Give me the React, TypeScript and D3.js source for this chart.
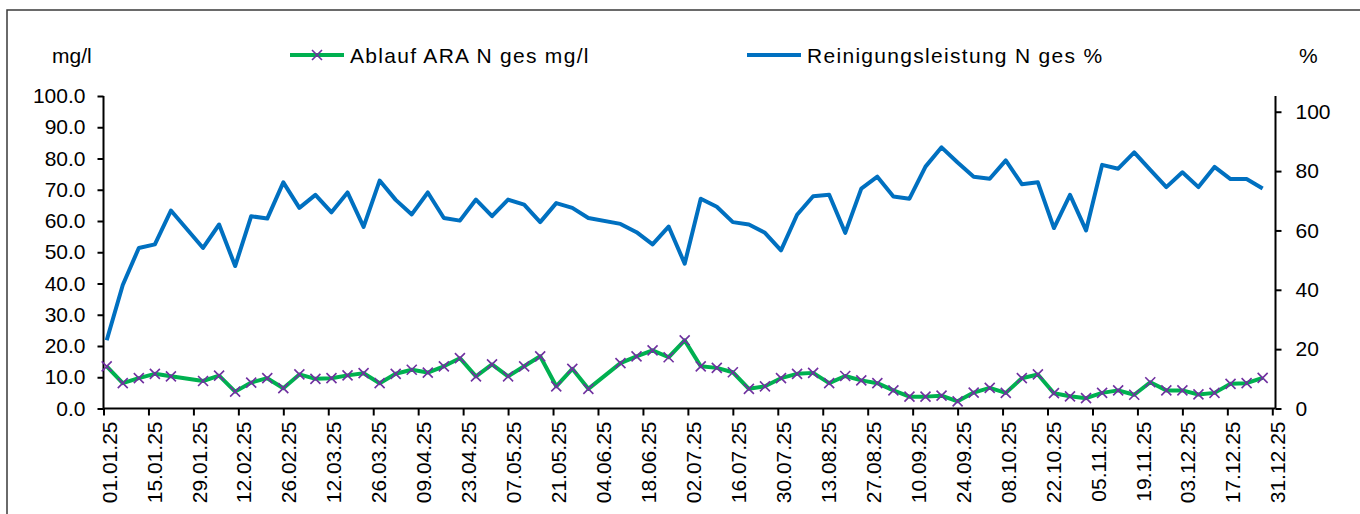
import React, { useRef, useEffect } from 'react';
import * as d3 from 'd3';

// sampling dates (dd.mm.yy)
const dates = [
  '02.01.25', '07.01.25', '12.01.25', '17.01.25', '22.01.25', '01.02.25', '06.02.25', '11.02.25', '16.02.25', '21.02.25',
  '26.02.25', '03.03.25', '08.03.25', '13.03.25', '18.03.25', '23.03.25', '28.03.25', '02.04.25', '07.04.25', '12.04.25',
  '17.04.25', '22.04.25', '27.04.25', '02.05.25', '07.05.25', '12.05.25', '17.05.25', '22.05.25', '27.05.25', '01.06.25',
  '11.06.25', '16.06.25', '21.06.25', '26.06.25', '01.07.25', '06.07.25', '11.07.25', '16.07.25', '21.07.25', '26.07.25',
  '31.07.25', '05.08.25', '10.08.25', '15.08.25', '20.08.25', '25.08.25', '30.08.25', '04.09.25', '09.09.25', '14.09.25',
  '19.09.25', '24.09.25', '29.09.25', '04.10.25', '09.10.25', '14.10.25', '19.10.25', '24.10.25', '29.10.25', '03.11.25',
  '08.11.25', '13.11.25', '18.11.25', '23.11.25', '28.11.25', '03.12.25', '08.12.25', '13.12.25', '18.12.25', '23.12.25',
  '28.12.25',
];

// Ablauf ARA N ges mg/l (left axis)
const ablaufN = [
  13.5, 8.1, 9.7, 11.1, 10.3, 8.8, 10.5, 5.4, 8.3, 9.7,
  6.5, 10.9, 9.5, 9.7, 10.6, 11.3, 8.1, 11.1, 12.4, 11.5,
  13.5, 16.1, 10.3, 14.1, 10.3, 13.5, 16.7, 7.1, 12.7, 6.3,
  14.5, 16.7, 18.6, 16.4, 21.8, 13.5, 13.0, 11.6, 6.3, 7.1,
  9.7, 11.1, 11.4, 8.1, 10.4, 9.0, 8.1, 5.8, 3.8, 3.8,
  4.1, 2.3, 5.1, 6.6, 5.0, 9.7, 10.9, 4.9, 3.9, 3.3,
  5.0, 5.8, 4.4, 8.4, 5.8, 5.8, 4.5, 5.0, 7.9, 8.1, 9.8,
];

// Reinigungsleistung N ges % (right axis)
const reinigung = [
  23.0, 41.6, 54.1, 55.3, 66.7, 54.1, 62.0, 48.0, 64.8, 64.0,
  76.2, 67.6, 72.0, 66.1, 72.8, 61.2, 76.8, 70.3, 65.4, 72.8,
  64.2, 63.3, 70.4, 64.8, 70.4, 68.7, 62.8, 69.2, 67.6, 64.2,
  62.2, 59.4, 55.3, 61.3, 48.8, 70.7, 68.0, 62.8, 62.0, 59.2,
  53.3, 65.3, 71.5, 72.0, 59.2, 74.1, 78.1, 71.4, 70.7, 81.5,
  88.0, 82.9, 78.1, 77.4, 83.6, 75.6, 76.2, 60.8, 72.0, 60.0,
  82.1, 80.8, 86.3, 80.4, 74.6, 79.6, 74.6, 81.4, 77.3, 77.3, 74.1,
];

const xTickLabels = [
  '01.01.25', '15.01.25', '29.01.25', '12.02.25', '26.02.25', '12.03.25', '26.03.25', '09.04.25', '23.04.25',
  '07.05.25', '21.05.25', '04.06.25', '18.06.25', '02.07.25', '16.07.25', '30.07.25', '13.08.25', '27.08.25',
  '10.09.25', '24.09.25', '08.10.25', '22.10.25', '05.11.25', '19.11.25', '03.12.25', '17.12.25', '31.12.25',
];
const leftTicks = [0, 10, 20, 30, 40, 50, 60, 70, 80, 90, 100];
const rightTicks = [0, 20, 40, 60, 80, 100];

const seriesNames = ['Ablauf ARA N ges mg/l', 'Reinigungsleistung N ges %'];

const GREEN = '#00b050';
const PURPLE = '#7030a0';
const BLUE = '#0070c0';
const FONT = '"Liberation Sans", Arial, sans-serif';

const App = () => {
  const ref = useRef(null);

  useEffect(() => {
    const width = 1360;
    const height = 514;
    const left = 103.5;
    const right = 1275.5;
    const top = 96;
    const bottom = 408.5;

    const parse = d3.timeParse('%d.%m.%y');
    const pts = dates.map((d, i) => ({ date: parse(d), n: ablaufN[i], r: reinigung[i] }));

    d3.select(ref.current).selectAll('*').remove();
    const svg = d3
      .select(ref.current)
      .append('svg')
      .attr('width', width)
      .attr('height', height)
      .style('position', 'absolute')
      .style('left', 0)
      .style('top', 0)
      .style('font-family', FONT);

    // chart frame
    svg
      .append('path')
      .attr('d', `M7,${height + 5}V10H${width + 5}`)
      .attr('fill', 'none')
      .attr('stroke', '#3a3a3a')
      .attr('stroke-width', 1.5);

    const x = d3.scaleTime().domain([new Date(2025, 0, 1), new Date(2026, 0, 1)]).range([left, right]);
    const yL = d3.scaleLinear().domain([0, 100]).range([bottom, top]);
    const yR = d3.scaleLinear().domain([0, 105.3]).range([bottom, top]);

    // left axis
    const gl = svg.append('g').attr('transform', `translate(${left},0)`);
    gl.call(d3.axisLeft(yL).tickValues(leftTicks).tickSize(6).tickPadding(12).tickFormat(d3.format('.1f')));
    gl.select('.domain').attr('d', `M0,${top}V${bottom}`);

    // right axis
    const gr = svg.append('g').attr('transform', `translate(${right},0)`);
    gr.call(d3.axisRight(yR).tickValues(rightTicks).tickSize(6).tickPadding(14).tickFormat(d3.format('d')));
    gr.select('.domain').attr('d', `M0,${top}V${bottom}`);

    // x axis
    const tickDates = xTickLabels.map((s) => parse(s));
    const gx = svg.append('g').attr('transform', `translate(0,${bottom})`);
    gx.call(d3.axisBottom(x).tickValues(tickDates).tickSize(7).tickFormat(d3.timeFormat('%d.%m.%y')));
    gx.select('.domain').attr('d', `M${left},0H${right}`);
    gx.selectAll('.tick text')
      .attr('transform', 'rotate(-90)')
      .attr('text-anchor', 'end')
      .attr('x', -13)
      .attr('y', 0)
      .attr('dy', '0.6em');

    svg.selectAll('.domain, .tick line').attr('stroke', '#000').attr('stroke-width', 2);
    svg.selectAll('.tick text').attr('font-size', 21).attr('font-family', FONT).attr('fill', '#000');

    // axis unit labels
    svg.append('text').attr('x', 52).attr('y', 62.5).attr('font-size', 21).text('mg/l');
    svg.append('text').attr('x', 1299).attr('y', 62.5).attr('font-size', 21).text('%');

    // blue line
    const lineR = d3.line().x((d) => x(d.date)).y((d) => yR(d.r));
    svg
      .append('path')
      .datum(pts)
      .attr('d', lineR)
      .attr('fill', 'none')
      .attr('stroke', BLUE)
      .attr('stroke-width', 4)
      .attr('stroke-linejoin', 'round');

    // green line
    const lineN = d3.line().x((d) => x(d.date)).y((d) => yL(d.n));
    svg
      .append('path')
      .datum(pts)
      .attr('d', lineN)
      .attr('fill', 'none')
      .attr('stroke', GREEN)
      .attr('stroke-width', 4)
      .attr('stroke-linejoin', 'round');

    // x markers
    const cross = (cx, cy, s) => `M${cx - s},${cy - s}L${cx + s},${cy + s}M${cx - s},${cy + s}L${cx + s},${cy - s}`;
    svg
      .append('g')
      .selectAll('path')
      .data(pts)
      .enter()
      .append('path')
      .attr('d', (d) => cross(x(d.date), yL(d.n), 5))
      .attr('stroke', PURPLE)
      .attr('stroke-width', 1.6)
      .attr('fill', 'none');

    // legend
    const legend = [
      { x0: 290, x1: 344, color: GREEN, marker: true, label: seriesNames[0] },
      { x0: 747, x1: 801, color: BLUE, marker: false, label: seriesNames[1] },
    ];
    legend.forEach((l) => {
      svg
        .append('line')
        .attr('x1', l.x0)
        .attr('x2', l.x1)
        .attr('y1', 55)
        .attr('y2', 55)
        .attr('stroke', l.color)
        .attr('stroke-width', 4);
      if (l.marker) {
        svg
          .append('path')
          .attr('d', cross((l.x0 + l.x1) / 2, 55, 5))
          .attr('stroke', PURPLE)
          .attr('stroke-width', 1.6);
      }
      svg
        .append('text')
        .attr('x', l.x1 + 6)
        .attr('y', 62.5)
        .attr('font-size', 21)
        .attr('letter-spacing', 1.3)
        .text(l.label);
    });
  }, []);

  return <div ref={ref}></div>;
};

export default App;
